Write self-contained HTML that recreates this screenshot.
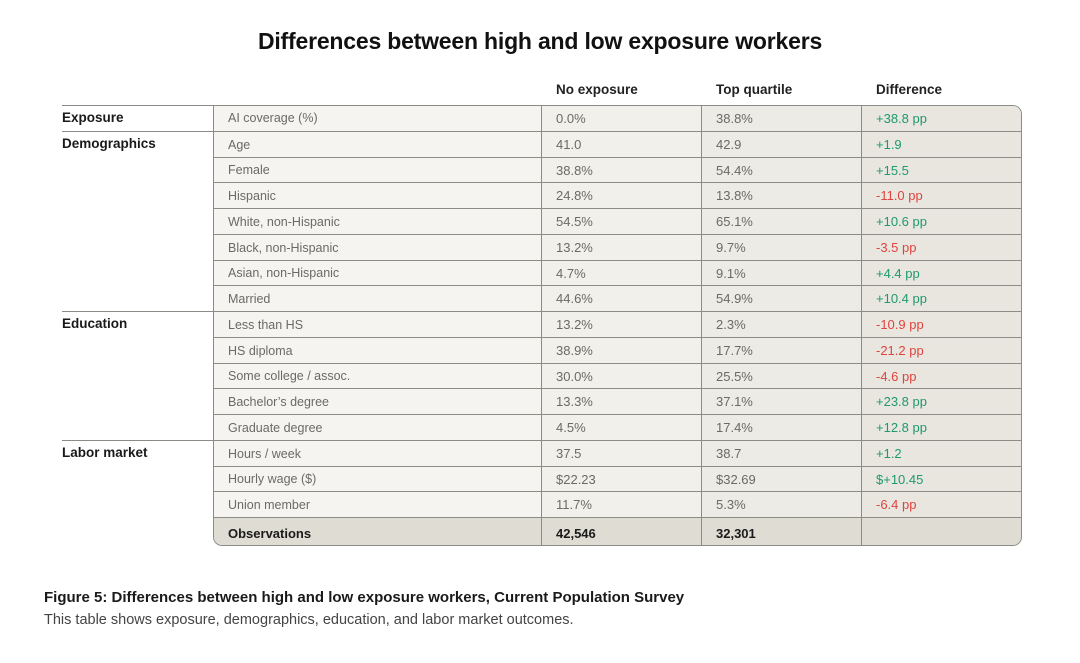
<!DOCTYPE html>
<html><head><meta charset="utf-8"><style>
body{margin:0;width:1080px;height:663px;background:#fff;font-family:"Liberation Sans",sans-serif;position:relative;overflow:hidden}
.a{position:absolute;box-sizing:border-box}
#title{left:0;width:1080px;top:28px;text-align:center;font-size:23px;font-weight:bold;color:#111;letter-spacing:-0.2px}
.hd{top:82px;font-size:13.5px;font-weight:bold;color:#222}
#tbl{left:213px;top:105px;width:809px;height:441px;border:1.5px solid #8c8b86;border-radius:0 9px 9px 9px;overflow:hidden;background:#f3f2ed}
.cell{font-size:12.5px;color:#6a6a66;padding-left:14px;display:flex;align-items:center;border-right:1.5px solid #8c8b86}
.top{border-top:1.5px solid #8c8b86}
.grp{font-size:13.5px;font-weight:bold;color:#1a1a1a;left:62px;width:151px;padding-top:4px;border-top:1.5px solid #8c8b86}
.pos{color:#1f9a6a}.neg{color:#e0443f}
#cap1{left:44px;top:589px;font-size:15px;font-weight:bold;color:#1a1a1a}
#cap2{left:44px;top:612px;font-size:14.5px;color:#444}
</style></head><body>
<div id="title" class="a">Differences between high and low exposure workers</div>
<div class="a hd" style="left:556px">No exposure</div>
<div class="a hd" style="left:716px">Top quartile</div>
<div class="a hd" style="left:876px">Difference</div>
<div id="tbl" class="a"></div>
<div id="cap1" class="a">Figure 5: Differences between high and low exposure workers, Current Population Survey</div>
<div id="cap2" class="a">This table shows exposure, demographics, education, and labor market outcomes.</div>
<script>
const labels=["AI coverage (%)","Age","Female","Hispanic","White, non-Hispanic","Black, non-Hispanic","Asian, non-Hispanic","Married","Less than HS","HS diploma","Some college / assoc.","Bachelor’s degree","Graduate degree","Hours / week","Hourly wage ($)","Union member"];
const noExp=["0.0%","41.0","38.8%","24.8%","54.5%","13.2%","4.7%","44.6%","13.2%","38.9%","30.0%","13.3%","4.5%","37.5","$22.23","11.7%"];
const topQ=["38.8%","42.9","54.4%","13.8%","65.1%","9.7%","9.1%","54.9%","2.3%","17.7%","25.5%","37.1%","17.4%","38.7","$32.69","5.3%"];
const diffs=["+38.8 pp","+1.9","+15.5","-11.0 pp","+10.6 pp","-3.5 pp","+4.4 pp","+10.4 pp","-10.9 pp","-21.2 pp","-4.6 pp","+23.8 pp","+12.8 pp","+1.2","$+10.45","-6.4 pp"];
const groups=["Exposure","Demographics","Education","Labor market"];
const groupStart=[0,1,8,13];
const obs=["42,546","32,301"];
const t=document.getElementById('tbl');
const rh=25.75,cw=[328,160,160,161],cx=[0,328,488,648];
const bgs=["#f5f4f0","#f1f0eb","#ecebe5","#e8e6df"];
function mk(i,c,txt,y,h,cls,bg){const d=document.createElement('div');d.className='a cell '+(cls||'')+(i>0?' top':'');
d.style.left=cx[c]+'px';d.style.top=y+'px';d.style.width=cw[c]+'px';d.style.height=h+'px';d.style.background=bg;d.textContent=txt;if(c==3)d.style.borderRight='none';t.appendChild(d);return d;}
labels.forEach((l,i)=>{const y=Math.round(i*rh)-1,h=Math.round((i+1)*rh)-1-y;
let e=mk(i,0,l,y,h,'',bgs[0]);
e=mk(i,1,noExp[i],y,h,'',bgs[1]);e.style.fontSize='13px';
e=mk(i,2,topQ[i],y,h,'',bgs[2]);e.style.fontSize='13px';
e=mk(i,3,diffs[i],y,h,diffs[i].indexOf('-')>=0?'neg':'pos',bgs[3]);e.style.fontSize='13px';});
const oy=Math.round(labels.length*rh)-1;
["Observations",obs[0],obs[1],""].forEach((v,c)=>{const e=mk(1,c,v,oy,32,'','#dedcd3');e.style.color='#1a1a1a';e.style.fontWeight='bold';e.style.fontSize='13px';
});
groups.forEach((g,i)=>{const d=document.createElement('div');d.className='a grp';d.textContent=g;
const s=groupStart[i],en=i<groups.length-1?groupStart[i+1]:labels.length;
d.style.top=(105+Math.round(s*rh))+'px';d.style.height=(Math.round(en*rh)-Math.round(s*rh))+'px';


document.body.appendChild(d);});
</script>
</body></html>
